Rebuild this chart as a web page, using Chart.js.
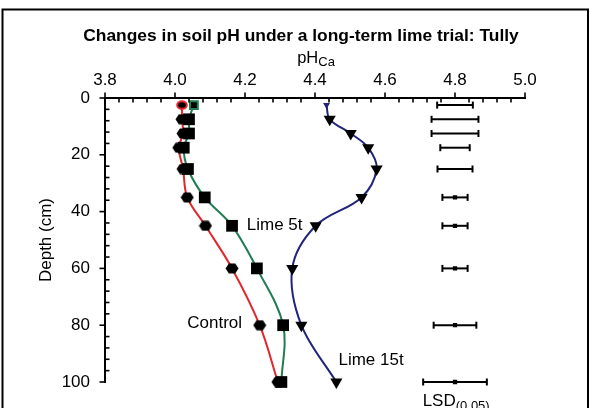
<!DOCTYPE html>
<html><head><meta charset="utf-8">
<script src="https://cdn.jsdelivr.net/npm/chart.js@4"></script>
<style>html,body{margin:0;padding:0;background:#fff;}#wrap{width:590px;height:408px;position:relative;}</style>
</head><body><div id="wrap"><canvas id="c" width="590" height="408"></canvas></div>
<script>
// ---- data ----
const depths   = [2.5, 7.5, 12.5, 17.5, 25, 35, 45, 60, 80, 100];
const controlPH = [4.020, 4.020, 4.023, 4.011, 4.023, 4.035, 4.087, 4.163, 4.242, 4.294];
const lime5PH   = [4.054, 4.040, 4.040, 4.025, 4.037, 4.085, 4.163, 4.234, 4.309, 4.304];
const lime15PH  = [4.433, 4.442, 4.502, 4.552, 4.576, 4.533, 4.402, 4.335, 4.361, 4.461];
const lsdDepths = [2.5, 7.5, 12.5, 17.5, 25, 35, 45, 60, 80];
const lsdHalf   = [0.051, 0.067, 0.067, 0.042, 0.050, 0.036, 0.036, 0.036, 0.061];
const lsdCentre = 4.80;
const lsdKeyHalf = 0.091;
const lsdKeyDepth = 100;
const xTickLabels = ['3.8', '4.0', '4.2', '4.4', '4.6', '4.8', '5.0'];
const yTickLabels = ['0', '20', '40', '60', '80', '100'];
const seriesNames = ['Control', 'Lime 5t', 'Lime 15t'];

// ---- styling ----
const FONT = '"Liberation Sans", Arial, Helvetica, sans-serif';
const RED = '#e3262b', GREEN = '#1f7d52', NAVY = '#22237a';
const xMinorStep = 0.04, yMinorStep = 4;

function makeCanvas(w, h, draw) { const c = document.createElement('canvas'); c.width = w; c.height = h; draw(c.getContext('2d')); return c; }
const hex = makeCanvas(14, 11, g => { g.beginPath(); g.moveTo(0.5,5.5); g.lineTo(3.8,0.5); g.lineTo(10.2,0.5); g.lineTo(13.5,5.5); g.lineTo(10.2,10.5); g.lineTo(3.8,10.5); g.closePath(); g.fillStyle = '#000'; g.fill(); });
const ring = makeCanvas(12, 10, g => { g.beginPath(); g.ellipse(6,5,4.8,3.8,0,0,Math.PI*2); g.fillStyle='#000'; g.fill(); g.lineWidth=2; g.strokeStyle=RED; g.stroke(); });

const pts = (xs, ys) => xs.map((x, i) => ({x: x, y: ys[i]}));
const arr = (first, rest) => depths.map((d, i) => i === 0 ? first : rest);

const datasets = [];
// markers (drawn on top)
datasets.push({label: seriesNames[0], data: pts(controlPH, depths), showLine: false, order: 1,
  pointStyle: arr(ring, hex), pointRadius: 6, pointHoverRadius: 6});
datasets.push({label: seriesNames[1], data: pts(lime5PH, depths), showLine: false, order: 1,
  pointStyle: 'rect', pointRadius: arr(5.5, 8.3), pointBackgroundColor: '#000',
  pointBorderColor: arr(GREEN, '#000'), pointBorderWidth: arr(2, 0)});
datasets.push({label: seriesNames[2], data: pts(lime15PH, depths), showLine: false, order: 1,
  pointStyle: 'triangle', pointRotation: 180, pointRadius: arr(4, 7),
  pointBackgroundColor: arr(NAVY, '#000'), pointBorderWidth: 0});
// lines (beneath)
[[controlPH, RED], [lime5PH, GREEN], [lime15PH, NAVY]].forEach(([v, col], k) => {
  datasets.push({label: seriesNames[k] + ' line', data: pts(v, depths), showLine: true, order: 2,
    borderColor: col, borderWidth: 2, pointRadius: 0, tension: 0.35});
});
// LSD bars
lsdDepths.forEach((d, i) => {
  const h = lsdHalf[i];
  const mid = i >= 5;
  const data = mid ? [{x: lsdCentre - h, y: d}, {x: lsdCentre, y: d}, {x: lsdCentre + h, y: d}]
                   : [{x: lsdCentre - h, y: d}, {x: lsdCentre + h, y: d}];
  datasets.push({label: 'LSD ' + d, data, showLine: true, order: 3, borderColor: '#000', borderWidth: 2,
    pointStyle: mid ? ['line', 'rect', 'line'] : 'line', pointRotation: mid ? [90, 0, 90] : 90,
    pointRadius: mid ? [3.5, 1.6, 3.5] : 3.5, pointBorderColor: '#000', pointBackgroundColor: '#000', pointBorderWidth: 2, tension: 0});
});
datasets.push({label: 'LSD key', data: [{x: lsdCentre - lsdKeyHalf, y: lsdKeyDepth}, {x: lsdCentre, y: lsdKeyDepth}, {x: lsdCentre + lsdKeyHalf, y: lsdKeyDepth}],
  showLine: true, order: 3, borderColor: '#000', borderWidth: 2, pointStyle: ['line', 'rect', 'line'], pointRotation: [90, 0, 90],
  pointRadius: [3.5, 1.6, 3.5], pointBorderColor: '#000', pointBackgroundColor: '#000', pointBorderWidth: 2, tension: 0});

const seriesLabels = [
  {text: 'Lime 5t',  x: 4.205, y: 45},
  {text: 'Control',  x: 4.035, y: 79.5},
  {text: 'Lime 15t', x: 4.467, y: 92.5}
];

const decor = {
  id: 'decor',
  beforeDraw(chart) {
    const ctx = chart.ctx;
    ctx.save(); ctx.fillStyle = '#fff'; ctx.fillRect(0, 0, chart.width, chart.height);
    ctx.strokeStyle = '#000'; ctx.lineWidth = 2; ctx.strokeRect(2.5, 9.5, 585.5, 430); ctx.restore();
  },
  afterDraw(chart) {
    const ctx = chart.ctx, xs = chart.scales.x, ys = chart.scales.y, a = chart.chartArea;
    ctx.save();
    ctx.strokeStyle = '#000'; ctx.lineWidth = 1.6;
    const nx = Math.round((xs.max - xs.min) / xMinorStep);
    for (let i = 0; i <= nx; i++) {
      const px = xs.getPixelForValue(xs.min + i * xMinorStep);
      ctx.beginPath();
      if (i % 5 === 0) { ctx.moveTo(px, a.top); ctx.lineTo(px, a.top - 5.5); }
      else { ctx.moveTo(px, a.top); ctx.lineTo(px, a.top + 4.5); }
      ctx.stroke();
    }
    const ny = Math.round((ys.max - ys.min) / yMinorStep);
    for (let i = 0; i <= ny; i++) {
      const py = ys.getPixelForValue(ys.min + i * yMinorStep);
      ctx.beginPath();
      if (i % 5 === 0) { ctx.moveTo(a.left, py); ctx.lineTo(a.left - 5.5, py); }
      else { ctx.moveTo(a.left, py); ctx.lineTo(a.left + 4.5, py); }
      ctx.stroke();
    }
    ctx.fillStyle = '#000';
    ctx.textAlign = 'center'; ctx.textBaseline = 'alphabetic';
    ctx.font = 'bold 17.4px ' + FONT;
    ctx.fillText('Changes in soil pH under a long-term lime trial: Tully', 301, 40.5);
    ctx.font = '16.5px ' + FONT;
    const w1 = ctx.measureText('pH').width;
    ctx.font = '13px ' + FONT;
    const w2 = ctx.measureText('Ca').width;
    const cx = (a.left + a.right) / 2 + 1;
    const sx = cx - (w1 + w2) / 2;
    ctx.textAlign = 'left';
    ctx.font = '16.5px ' + FONT; ctx.fillText('pH', sx, 62.5);
    ctx.font = '13px ' + FONT; ctx.fillText('Ca', sx + w1, 66);
    ctx.save(); ctx.translate(46.5, (a.top + a.bottom) / 2); ctx.rotate(-Math.PI / 2);
    ctx.textAlign = 'center'; ctx.textBaseline = 'middle'; ctx.font = '17px ' + FONT;
    ctx.fillText('Depth (cm)', 0, 0); ctx.restore();
    ctx.font = '17px ' + FONT; ctx.textAlign = 'left'; ctx.textBaseline = 'middle';
    seriesLabels.forEach(l => ctx.fillText(l.text, xs.getPixelForValue(l.x), ys.getPixelForValue(l.y)));
    const lx = xs.getPixelForValue(lsdCentre - lsdKeyHalf) - 0.5;
    ctx.textBaseline = 'alphabetic';
    ctx.font = '17px ' + FONT; ctx.fillText('LSD', lx, 406);
    const wl = ctx.measureText('LSD').width;
    ctx.font = '13px ' + FONT; ctx.fillText('(0.05)', lx + wl, 410);
    ctx.restore();
  }
};

new Chart(document.getElementById('c'), {
  type: 'scatter',
  data: {datasets},
  options: {
    responsive: false, animation: false, devicePixelRatio: 1,
    layout: {padding: {top: 0, left: 0, right: 65, bottom: 26}},
    plugins: {legend: {display: false}, tooltip: {enabled: false}, title: {display: false}},
    elements: {line: {capBezierPoints: false}},
    clip: false,
    scales: {
      x: {
        type: 'linear', position: 'top', min: 3.8, max: 5.0,
        afterBuildTicks: s => { s.ticks = xTickLabels.map(t => ({value: parseFloat(t)})); },
        ticks: {callback: (v) => { const t = xTickLabels.find(l => Math.abs(parseFloat(l) - v) < 1e-6); return t === undefined ? '' : t; },
          font: {family: FONT, size: 17}, color: '#000', padding: 7, maxRotation: 0, autoSkip: false},
        grid: {display: false, drawTicks: false, tickLength: 0},
        border: {display: true, color: '#000', width: 2},
        afterFit: s => { s.height = 98; }
      },
      y: {
        type: 'linear', position: 'left', reverse: true, min: 0, max: 100,
        afterBuildTicks: s => { s.ticks = yTickLabels.map(t => ({value: parseFloat(t)})); },
        ticks: {callback: (v) => { const t = yTickLabels.find(l => Math.abs(parseFloat(l) - v) < 1e-6); return t === undefined ? '' : t; },
          font: {family: FONT, size: 17}, color: '#000', padding: 15, autoSkip: false},
        grid: {display: false, drawTicks: false, tickLength: 0},
        border: {display: true, color: '#000', width: 2},
        afterFit: s => { s.width = 105; }
      }
    }
  },
  plugins: [decor]
});
</script></body></html>
